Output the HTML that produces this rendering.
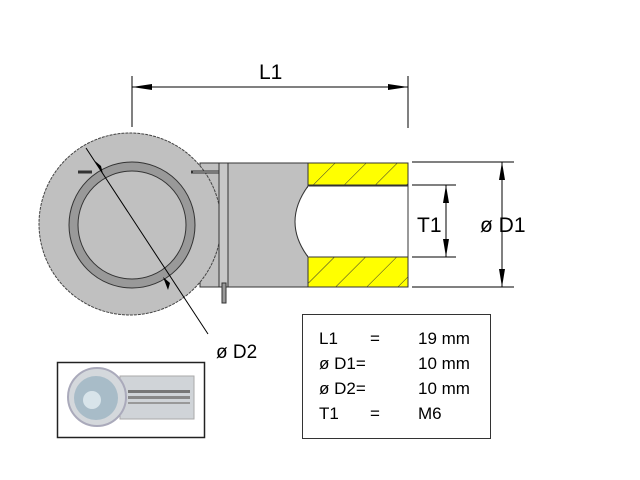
<!DOCTYPE html>
<html><head><style>body{margin:0;background:#fff}svg{display:block}text{font-family:"Liberation Sans",sans-serif;fill:#000}</style></head><body>
<svg width="640" height="480" viewBox="0 0 640 480">
<defs><pattern id="h" width="22" height="22" patternUnits="userSpaceOnUse" patternTransform="rotate(45)"><rect width="22" height="22" fill="#ffff00"/><line x1="0" y1="0" x2="0" y2="22" stroke="#333" stroke-width="1"/></pattern></defs>
<!-- shaft -->
<rect x="200" y="163" width="22" height="124" fill="#c0c0c0" stroke="#333"/>
<rect x="228" y="163" width="80" height="124" fill="#c0c0c0" stroke="#333"/>
<rect x="308" y="163" width="100" height="22" fill="url(#h)" stroke="#333"/>
<rect x="308" y="257" width="100" height="30" fill="url(#h)" stroke="#333"/>
<rect x="308" y="186" width="100" height="71" fill="#fff"/>
<path d="M309 186 Q282 222 309 257 Z" fill="#fff" stroke="none"/>
<path d="M308 163 V186 Q282 222 308 257 V287" fill="none" stroke="#333"/>
<line x1="308" y1="186" x2="408" y2="186" stroke="#333"/>
<line x1="308" y1="257" x2="408" y2="257" stroke="#333"/>
<line x1="408" y1="163" x2="408" y2="287" stroke="#333"/>
<!-- eye -->
<circle cx="130" cy="224" r="91" fill="#c0c0c0" stroke="#444" stroke-dasharray="3 1"/>
<circle cx="132" cy="225" r="58.5" fill="none" stroke="#999" stroke-width="9"/>
<circle cx="132" cy="225" r="63" fill="none" stroke="#333" stroke-width="1"/>
<circle cx="132" cy="225" r="54" fill="none" stroke="#333" stroke-width="1"/>
<path d="M78 172 H92" stroke="#333" stroke-width="3"/>
<path d="M191 172 H222" stroke="#333" stroke-width="3"/>
<path d="M193 172 H221" stroke="#c0c0c0" stroke-width="1"/>
<!-- plate -->
<rect x="219" y="163" width="9" height="124" fill="#c8c8c8" stroke="#333"/>
<rect x="222" y="283" width="4" height="20" fill="#999" stroke="#333"/>
<!-- D2 dim -->
<line x1="86" y1="148" x2="208" y2="334" stroke="#000"/>
<polygon points="95,161 101,166 103,174" fill="#000"/>
<polygon points="163,277 170,283 168,290" fill="#000"/>
<text x="216" y="358" font-size="19">ø D2</text>
<!-- L1 -->
<line x1="132" y1="76" x2="132" y2="127" stroke="#000"/>
<line x1="408" y1="76" x2="408" y2="128" stroke="#000"/>
<line x1="132" y1="87" x2="408" y2="87" stroke="#000"/>
<polygon points="132,87 152,84 152,90" fill="#000"/>
<polygon points="408,87 388,84 388,90" fill="#000"/>
<text x="259" y="79" font-size="21">L1</text>
<!-- T1 / D1 -->
<line x1="412" y1="185" x2="456" y2="185" stroke="#000"/>
<line x1="412" y1="257" x2="456" y2="257" stroke="#000"/>
<line x1="446" y1="185" x2="446" y2="257" stroke="#000"/>
<polygon points="446,185 443,203 449,203" fill="#000"/>
<polygon points="446,257 443,239 449,239" fill="#000"/>
<line x1="412" y1="162" x2="514" y2="162" stroke="#000"/>
<line x1="412" y1="287" x2="514" y2="287" stroke="#000"/>
<line x1="502" y1="162" x2="502" y2="287" stroke="#000"/>
<polygon points="502,162 499,180 505,180" fill="#000"/>
<polygon points="502,287 499,269 505,269" fill="#000"/>
<text x="417" y="232" font-size="21">T1</text>
<text x="480" y="232" font-size="21">ø D1</text>
<!-- table -->
<rect x="302.5" y="314.5" width="188" height="124" fill="#fff" stroke="#333"/>
<g font-size="17" fill="#222">
<text x="319" y="344">L1</text><text x="370" y="344">=</text><text x="418" y="344">19 mm</text>
<text x="319" y="369">ø D1=</text><text x="418" y="369">10 mm</text>
<text x="319" y="394">ø D2=</text><text x="418" y="394">10 mm</text>
<text x="319" y="419">T1</text><text x="370" y="419">=</text><text x="418" y="419">M6</text>
</g>
<!-- photo -->
<rect x="57.5" y="362.5" width="147" height="75" fill="#fff" stroke="#222" stroke-width="1.5"/>
<rect x="120" y="376" width="74" height="43" fill="#d0d4d8" stroke="#aaa"/>
<rect x="128" y="390" width="62" height="3" fill="#777"/>
<rect x="128" y="396" width="62" height="3" fill="#888"/>
<rect x="128" y="402" width="62" height="2" fill="#999"/>
<circle cx="97" cy="397" r="29" fill="#d4d8dc" stroke="#aab" stroke-width="2"/>
<circle cx="96" cy="398" r="22" fill="#a8bcc8"/>
<circle cx="92" cy="400" r="9" fill="#d8e4ea"/>
</svg>
</body></html>
